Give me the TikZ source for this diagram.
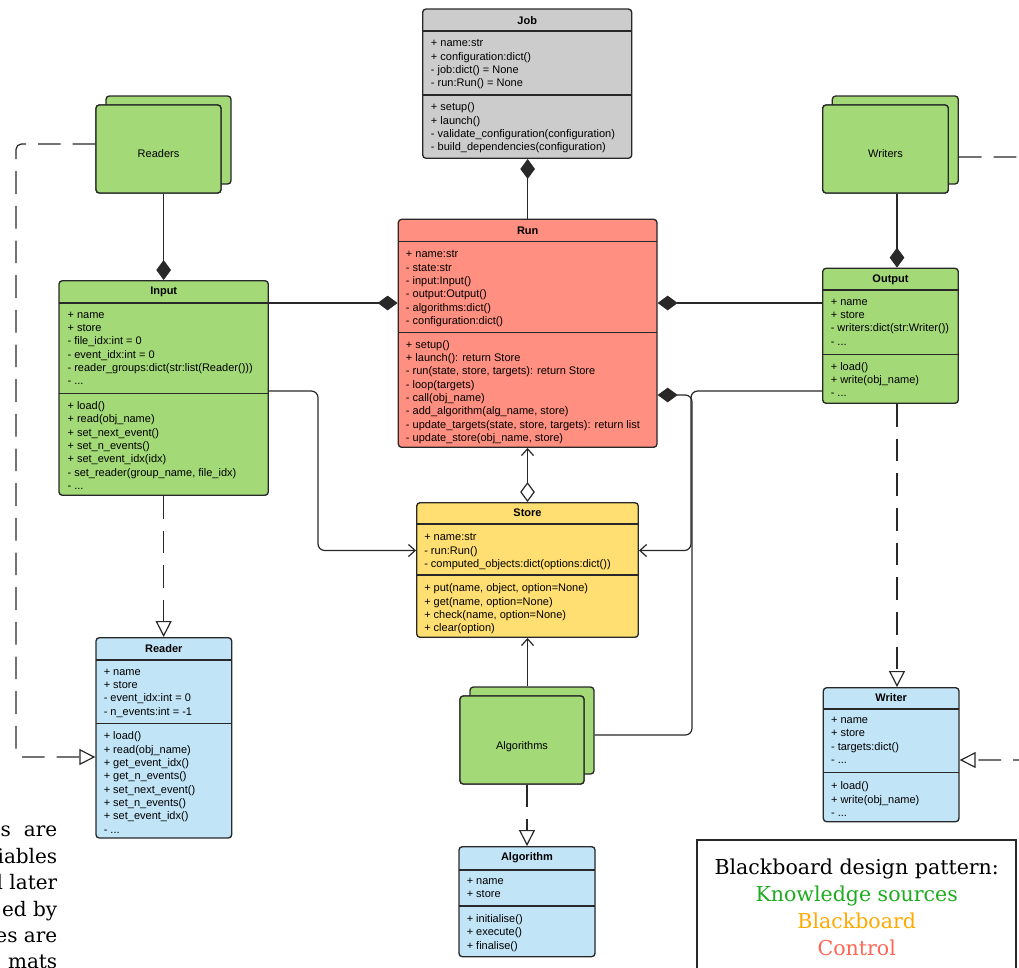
\documentclass[tikz,border=0pt]{standalone}
\usepackage{fontspec}
\setmainfont{Liberation Sans}
\newfontfamily\legendfont{DejaVu Serif}
\usetikzlibrary{arrows.meta,fit}
\definecolor{kgreen}{RGB}{163,217,119}
\definecolor{cred}{RGB}{255,143,128}
\definecolor{byellow}{RGB}{255,223,113}
\definecolor{lblue}{RGB}{193,228,247}
\definecolor{jgray}{RGB}{204,204,204}
\definecolor{bcol}{RGB}{40,40,40}
\definecolor{lgreen}{RGB}{30,170,30}
\definecolor{lorange}{RGB}{255,170,0}
\definecolor{lred}{RGB}{255,102,85}
\begin{document}
\begin{tikzpicture}[x=0.75pt,y=-0.75pt,
  cls/.style={draw=bcol, line width=1pt, rounded corners=2.5pt, inner sep=0pt},
  txt/.style={font=\fontsize{8.25}{10}\selectfont, align=left, anchor=north west, inner sep=0pt, yshift=-2.25pt, execute at begin node=\strut},
  ttl/.style={font=\fontsize{8.25}{10}\selectfont\bfseries, anchor=base, inner sep=0pt},
  lbl/.style={font=\fontsize{8.25}{10}\selectfont, anchor=base, inner sep=0pt},
  sepline/.style={draw=bcol, line width=1pt},
  conn/.style={draw=bcol, line width=0.9pt},
  comp/.style={conn, -{Diamond[length=15pt,width=11pt]}},
  nav/.style={conn, -{Straight Barb[length=5pt,width=9pt]}},
  real/.style={conn, dash pattern=on 17pt off 9pt, -{Triangle[open,fill=white,length=12pt,width=12pt]}}
]
\useasboundingbox (0,0) rectangle (1019,967);
\clip (0,0) rectangle (1019,967);

% stacks (back boxes)
\node[cls, fill=kgreen, fit={(106,96) (231,184)}] (readersback) {};
\node[cls, fill=kgreen, fit={(832.3,96) (958.3,184)}] (writersback) {};
\node[cls, fill=kgreen, fit={(470,687) (594,774)}] (algsback) {};

% ---------- class boxes ----------
\node[cls, fill=jgray, fit={(422.7,9) (631.7,158.3)}] (job) {};
\node[cls, fill=cred, fit={(398.3,219.3) (657,447.3)}] (run) {};
\node[cls, fill=kgreen, fit={(59,280.7) (268.3,495.3)}] (input) {};
\node[cls, fill=kgreen, fit={(822.7,268.3) (958.3,403.3)}] (output) {};
\node[cls, fill=lblue, fit={(96,637.7) (231.7,838)}] (reader) {};
\node[cls, fill=byellow, fit={(416.7,502.7) (638.3,637.3)}] (store) {};
\node[cls, fill=lblue, fit={(823.3,687.7) (959,821.7)}] (writer) {};
\node[cls, fill=lblue, fit={(459,846.7) (595,956.7)}] (algorithm) {};
\node[cls, fill=kgreen, fit={(96,105) (221,193)}] (readersfront) {};
\node[cls, fill=kgreen, fit={(822.7,105) (948.3,193)}] (writersfront) {};
\node[cls, fill=kgreen, fit={(460,696) (584,784)}] (algsfront) {};

% ---------- connectors ----------
\draw[comp] (run.north) -- (run.north |- job.south);
\draw[comp] (input.north |- readersfront.south) -- (input.north);
\draw[comp] (input.east |- 0,303) -- (run.west |- 0,303);
\draw[comp] (output.west |- 0,303) -- (run.east |- 0,303);
\draw[comp] (897,0 |- writersfront.south) -- (897,0 |- output.north);
\draw[nav, rounded corners=5pt] (input.east |- 0,391) -- (318,391) -- (318,550.5) -- (store.west |- 0,550.5);
\draw[nav, rounded corners=5pt] (output.west |- 0,391) -- (691,391) -- (691,550.5) -- (store.east |- 0,550.5);
\draw[comp, rounded corners=5pt] (algsback.east |- 0,735) -- (692,735) -- (692,395) -- (run.east |- 0,395);
\draw[nav] (store.south |- algsback.north) -- (store.south);
\draw[conn, {Straight Barb[length=5pt,width=9pt]}-{Diamond[open,fill=white,length=15pt,width=11pt]}] (store.north |- run.south) -- (store.north);
\draw[real] (input.south) -- (input.south |- reader.north);
\draw[real] (897,0 |- output.south) -- (897,0 |- writer.north);
\draw[real] (algorithm.north |- algsfront.south) -- (algorithm.north);
\draw[real, rounded corners=4pt] (readersfront.west |- 0,144) -- (16,144) -- (16,757) -- (reader.west |- 0,757);
\draw[real, rounded corners=4pt] (writersback.east |- 0,157) -- (1045,157) -- (1045,760) -- (writer.east |- 0,760);

% redraw front stack boxes over connector starts
\node[cls, fill=kgreen, fit={(96,105) (221,193)}] (readersfront2) {};
\node[cls, fill=kgreen, fit={(822.7,105) (948.3,193)}] (writersfront2) {};
\node[cls, fill=kgreen, fit={(460,696) (584,784)}] (algsfront2) {};
\node[lbl] (readerslbl) at (158.5,157.3) {Readers};
\node[lbl] (writerslbl) at (885.5,157.3) {Writers};
\node[lbl] (algslbl) at (522,749) {Algorithms};

% ---------- Job ----------
\draw[sepline] (422.7,31) -- (631.7,31);
\draw[sepline] (422.7,95) -- (631.7,95);
\node[ttl] (jobt) at (527.2,24) {Job};
\node[txt] (joba) at (430.7,36.4) {+ name:str\\+ configuration:dict()\\- job:dict() = None\\- run:Run() = None};
\node[txt] (jobm) at (430.7,99.7) {+ setup()\\+ launch()\\- validate\_configuration(configuration)\\- build\_dependencies(configuration)};

% ---------- Run ----------
\draw[sepline] (398.3,241.7) -- (657,241.7);
\draw[sepline] (398.3,332.3) -- (657,332.3);
\node[ttl] (runt) at (527.7,234) {Run};
\node[txt] (runa) at (405.7,247.4) {+ name:str\\- state:str\\- input:Input()\\- output:Output()\\- algorithms:dict()\\- configuration:dict()};
\node[txt] (runm) at (405.7,337) {+ setup()\\+ launch(): return Store\\- run(state, store, targets): return Store\\- loop(targets)\\- call(obj\_name)\\- add\_algorithm(alg\_name, store)\\- update\_targets(state, store, targets): return list\\- update\_store(obj\_name, store)};

% ---------- Input ----------
\draw[sepline] (59,303) -- (268.3,303);
\draw[sepline] (59,393.7) -- (268.3,393.7);
\node[ttl] (inputt) at (163.7,294.7) {Input};
\node[txt] (inputa) at (67.3,308.4) {+ name\\+ store\\- file\_idx:int = 0\\- event\_idx:int = 0\\- reader\_groups:dict(str:list(Reader()))\\- ...};
\node[txt] (inputm) at (67.3,398.4) {+ load()\\+ read(obj\_name)\\+ set\_next\_event()\\+ set\_n\_events()\\+ set\_event\_idx(idx)\\- set\_reader(group\_name, file\_idx)\\- ...};

% ---------- Output ----------
\draw[sepline] (822.7,290) -- (958.3,290);
\draw[sepline] (822.7,354.3) -- (958.3,354.3);
\node[ttl] (outputt) at (890.5,282.3) {Output};
\node[txt] (outputa) at (830.5,295.4) {+ name\\+ store\\- writers:dict(str:Writer())\\- ...};
\node[txt] (outputm) at (830.5,359) {+ load()\\+ write(obj\_name)\\- ...};

% ---------- Reader ----------
\draw[sepline] (96,660) -- (231.7,660);
\draw[sepline] (96,723.3) -- (231.7,723.3);
\node[ttl] (readert) at (163.8,652.3) {Reader};
\node[txt] (readera) at (103.5,665.4) {+ name\\+ store\\- event\_idx:int = 0\\- n\_events:int = -1};
\node[txt] (readerm) at (103.5,728.7) {+ load()\\+ read(obj\_name)\\+ get\_event\_idx()\\+ get\_n\_events()\\+ set\_next\_event()\\+ set\_n\_events()\\+ set\_event\_idx()\\- ...};

% ---------- Store ----------
\draw[sepline] (416.7,524) -- (638.3,524);
\draw[sepline] (416.7,575) -- (638.3,575);
\node[ttl] (storet) at (527.5,516.7) {Store};
\node[txt] (storea) at (424,530.4) {+ name:str\\- run:Run()\\- computed\_objects:dict(options:dict())};
\node[txt] (storem) at (424,580.7) {+ put(name, object, option=None)\\+ get(name, option=None)\\+ check(name, option=None)\\+ clear(option)};

% ---------- Writer ----------
\draw[sepline] (823.3,709) -- (959,709);
\draw[sepline] (823.3,772.7) -- (959,772.7);
\node[ttl] (writert) at (891.2,701.7) {Writer};
\node[txt] (writera) at (830.8,714) {+ name\\+ store\\- targets:dict()\\- ...};
\node[txt] (writerm) at (830.8,778.7) {+ load()\\+ write(obj\_name)\\- ...};

% ---------- Algorithm ----------
\draw[sepline] (459,870) -- (595,870);
\draw[sepline] (459,906) -- (595,906);
\node[ttl] (algorithmt) at (527,860.7) {Algorithm};
\node[txt] (algorithma) at (466.5,874.7) {+ name\\+ store};
\node[txt] (algorithmm) at (466.5,911.4) {+ initialise()\\+ execute()\\+ finalise()};

% ---------- legend ----------
\node[draw=bcol, line width=1pt, inner sep=0pt, fit={(697,840) (1016,995)}] (legend) {};
\node[font=\legendfont\fontsize{15.4}{20.2}\selectfont, align=center, anchor=north, inner sep=0pt, execute at begin node=\strut] (legendtext) at (856.7,858.5)
  {Blackboard design pattern:\\\textcolor{lgreen}{Knowledge sources}\\\textcolor{lorange}{Blackboard}\\\textcolor{lred}{Control}};

% ---------- cropped body text at the left ----------
\node[font=\legendfont\fontsize{15}{19.8}\selectfont, align=right, anchor=north east, inner sep=0pt, execute at begin node=\strut] (fragment) at (57.5,826)
  {s\hspace{0.65em}are\\iables\\l later\\ed by\\es are\\mats};
\end{tikzpicture}
\end{document}
